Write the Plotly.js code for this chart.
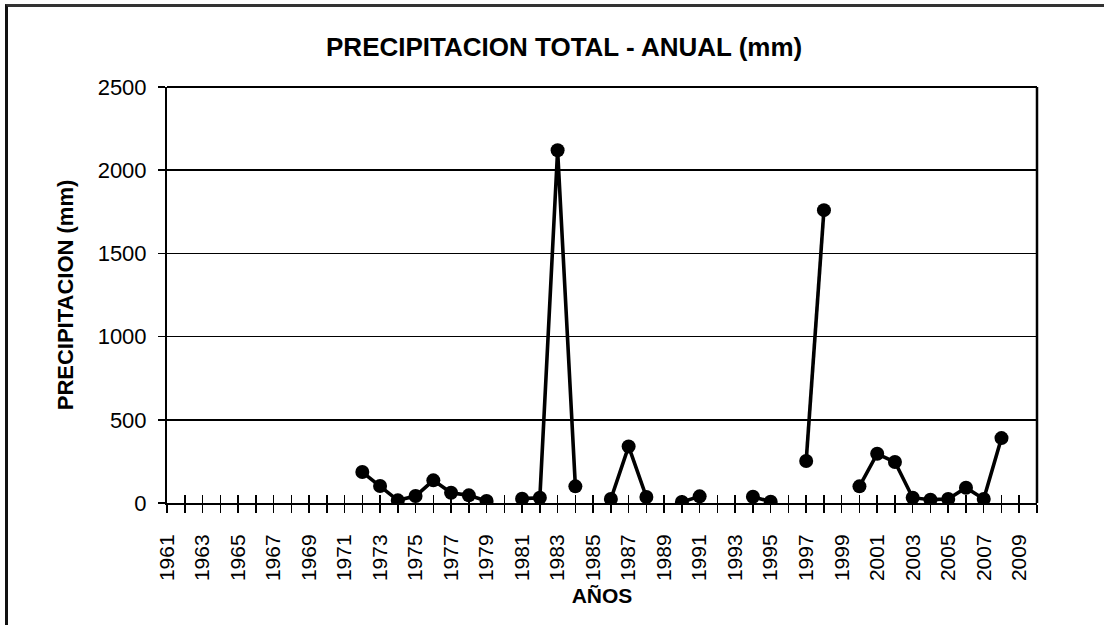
<!DOCTYPE html>
<html>
<head>
<meta charset="utf-8">
<script src="https://cdn.plot.ly/plotly-3.0.1.min.js"></script>
<style>
  html, body { margin: 0; padding: 0; background: #fff; }
  #wrap { position: relative; width: 1104px; height: 625px; overflow: hidden; }
  #chart { position: absolute; left: 0; top: 0; width: 1104px; height: 625px; }
  #frame { position: absolute; left: 5px; top: 4px; width: 1096px; height: 640px;
           border-left: 3px solid #111; border-top: 3px solid #333; border-right: 1px solid #999;
           pointer-events: none; }
</style>
</head>
<body>
<div id="wrap">
  <div id="chart"></div>
  <div id="frame"></div>
</div>
<script>
// Years shown on the category axis (1961-2010)
const years = [];
for (let y = 1961; y <= 2010; y++) years.push(y);

// Annual precipitation (mm); null = no data
const precip = [
  null, null, null, null, null, null, null, null, null, null, // 1961-1970
  null, 186, 102, 16, 42, 136, 62, 46, 12, null,              // 1971-1980
  26, 32, 2120, 100, null, 24, 340, 36, null, 6,              // 1981-1990
  40, null, null, 38, 8, null, 252, 1760, null, 100,          // 1991-2000
  296, 246, 32, 20, 24, 92, 24, 390, null, null               // 2001-2010
];

const tickLabels = years.map(y => (y % 2 === 1 ? String(y) : ''));

const titleText = 'PRECIPITACION TOTAL - ANUAL (mm)';
const xTitle = 'AÑOS';
const yTitle = 'PRECIPITACION (mm)';

const boldFont = 'Liberation Sans Narrow, Liberation Sans, Arial, sans-serif';
const tickFont = 'Liberation Sans, Arial, sans-serif';

const trace = {
  x: years,
  y: precip,
  type: 'scatter',
  mode: 'lines+markers',
  connectgaps: false,
  line: { color: '#000', width: 3.6 },
  marker: { color: '#000', size: 14 },
  hoverinfo: 'x+y',
  showlegend: false
};

const layout = {
  width: 1104,
  height: 625,
  margin: { l: 167, r: 67, t: 87, b: 122 },
  paper_bgcolor: '#fff',
  plot_bgcolor: '#fff',
  title: {
    text: '<b>' + titleText + '</b>',
    font: { family: boldFont, size: 26, color: '#000' },
    x: 0.511, xanchor: 'center',
    y: 0.925, yanchor: 'middle'
  },
  xaxis: {
    type: 'linear',
    range: [1961, 2010],
    tickmode: 'array',
    tickvals: years,
    ticktext: tickLabels,
    tickangle: -90,
    ticks: 'outside',
    ticklen: 8,
    tickwidth: 1.5,
    tickcolor: '#000',
    ticklabelstandoff: 13,
    tickfont: { family: tickFont, size: 21, color: '#000' },
    showline: true,
    linecolor: '#000',
    linewidth: 2,
    mirror: false,
    showgrid: false,
    zeroline: false,
    title: {
      text: '<b>' + xTitle + '</b>',
      font: { family: boldFont, size: 21, color: '#000' },
      standoff: 8
    }
  },
  xaxis2: {
    type: 'linear',
    overlaying: 'x',
    matches: 'x',
    anchor: 'y',
    side: 'bottom',
    range: [1961, 2010],
    tickmode: 'array',
    tickvals: years,
    ticks: 'inside',
    ticklen: 8,
    tickwidth: 1.5,
    tickcolor: '#000',
    showticklabels: false,
    showgrid: false,
    zeroline: false,
    showline: false
  },
  yaxis: {
    range: [0, 2500],
    tickmode: 'linear',
    tick0: 0,
    dtick: 500,
    ticks: 'outside',
    ticklen: 7,
    tickwidth: 1.5,
    tickcolor: '#000',
    ticklabelstandoff: 7,
    tickfont: { family: tickFont, size: 22, color: '#000' },
    showgrid: true,
    gridcolor: '#000',
    gridwidth: 1.5,
    showline: true,
    linecolor: '#000',
    linewidth: 2,
    zeroline: false,
    title: {
      text: '<b>' + yTitle + '</b>',
      font: { family: boldFont, size: 22, color: '#000' },
      standoff: 18
    }
  },
  shapes: [
    { type: 'line', xref: 'paper', yref: 'paper', x0: 1, x1: 1, y0: 0, y1: 1,
      line: { color: '#000', width: 2.5 } },
    { type: 'line', xref: 'paper', yref: 'paper', x0: 0, x1: 1, y0: 1, y1: 1,
      line: { color: '#000', width: 2 } }
  ]
};

const trace2 = { x: [years[0]], y: [null], xaxis: 'x2', yaxis: 'y', type: 'scatter', mode: 'markers', showlegend: false, hoverinfo: 'skip' };

Plotly.newPlot('chart', [trace, trace2], layout, { displayModeBar: false, staticPlot: true });
</script>
</body>
</html>
